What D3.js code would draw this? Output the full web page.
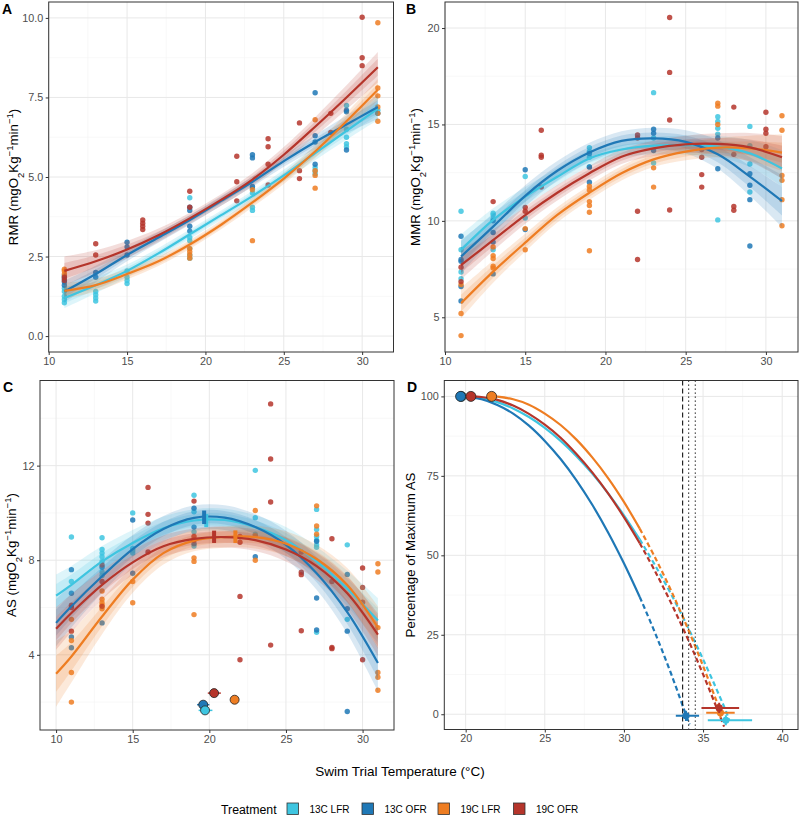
<!DOCTYPE html>
<html><head><meta charset="utf-8">
<script src="https://cdn.jsdelivr.net/npm/d3@7"></script>
<style>body{margin:0;background:#fff} svg{display:block;font-family:"Liberation Sans",Arial,Helvetica,sans-serif}</style>
</head><body><svg id="c" width="800" height="816"></svg>
<script>
// ---------------- DATA ----------------
const treatments = ["13C LFR","13C OFR","19C LFR","19C OFR"];
const palette = ["#3ec5e0","#1f78b6","#ee7d22","#b5352b"];

// Panel A: RMR observations [temperature, values]
const rmrPts13LFR = [[11,[1.05,1.15,1.25,1.4,1.5]],[13,[1.1,1.2,1.3,1.4]],[15,[1.65,1.75,1.85,2.05]],[19,[2.45,2.55,2.75,3.0,3.1,4.35]],[23,[3.95,4.05,4.5,4.65]],[27,[5.1,5.2,5.3]],[29,[5.95,6.05,6.25,6.5,7.25]],[31,[7.1]]];
const rmrPts13OFR = [[11,[1.6,1.7,1.8,1.9]],[13,[1.85,2.0]],[15,[2.55,2.8,2.95]],[19,[3.3,3.45,3.95,4.05]],[23,[4.7,5.6,5.7]],[27,[5.4,6.1,6.3,7.65]],[29,[5.85,7.05,7.1]],[31,[7.0]]];
const rmrPts19LFR = [[11,[1.95,2.05,2.1]],[19,[2.45,2.55,2.65,2.75]],[23,[3.0,4.6]],[27,[4.65,5.05,5.2,6.8]],[31,[6.75,7.0,7.2,7.55,7.8,9.85]]];
const rmrPts19OFR = [[11,[1.75,1.85]],[13,[2.55,2.9]],[16,[3.35,3.45,3.55,3.65]],[19,[4.05,4.55]],[22,[4.25,4.85,5.65]],[24,[4.75,5.4,5.95,6.2]],[26,[4.95,5.2,6.7]],[28,[6.4,7.0]],[30,[8.5,8.75,10.02]]];
const fitTempsAB = [11,13,15,17,19,21,23,25,27,29,31];
const rmrFit13LFR = [1.2,1.6,2.05,2.6,3.2,3.8,4.4,5.05,5.75,6.45,7.15];
const rmrFit13OFR = [1.4,1.95,2.55,3.1,3.65,4.25,4.85,5.5,6.1,6.65,7.2];
const rmrFit19LFR = [1.42,1.6,1.95,2.35,2.88,3.5,4.2,4.95,5.8,6.75,7.74];
const rmrFit19OFR = [2.05,2.35,2.72,3.17,3.7,4.28,4.92,5.7,6.58,7.5,8.45];
const rmrBand13LFR = [0.32,0.25,0.2,0.17,0.15,0.15,0.16,0.18,0.22,0.28,0.36];
const rmrBand13OFR = [0.34,0.26,0.2,0.17,0.15,0.15,0.16,0.18,0.22,0.28,0.38];
const rmrBand19LFR = [0.25,0.2,0.17,0.15,0.14,0.14,0.15,0.17,0.2,0.26,0.34];
const rmrBand19OFR = [0.45,0.35,0.27,0.21,0.18,0.18,0.2,0.24,0.3,0.38,0.48];

// Panel B: MMR observations
const mmrPts13LFR = [[11,[10.5,8.5,7.35,7.0]],[13,[10.4,10.3,10.1,8.5]],[15,[12.3,10.15]],[19,[13.8,13.6,13.3,12.8]],[23,[16.65,14.3,13.0]],[27,[15.4,15.15,14.8,14.5,10.05]],[29,[14.9,13.9,12.95,11.5]]];
const mmrPts13OFR = [[11,[9.2,8.0,7.9,6.6,5.85]],[13,[10.0,9.4,8.9,7.25]],[15,[12.65,9.55]],[19,[13.5,12.8,12.0]],[23,[14.75,14.55,13.65]],[27,[14.3,12.7]],[29,[12.45,11.85,11.1,8.7]]];
const mmrPts19LFR = [[11,[6.7,5.2,4.05]],[13,[8.65,8.2,8.05,7.65,7.55]],[15,[9.6,8.5]],[19,[11.8,11.6,11.0,10.8,10.45,8.45]],[23,[12.75,11.75]],[27,[16.1,15.95,15.0]],[31,[15.45,14.7,12.35,12.1,11.1,9.75]]];
const mmrPts19OFR = [[11,[7.6,6.85]],[13,[11.0]],[15,[10.7,10.5]],[16,[14.7,13.4,13.3,11.75]],[22,[14.45,14.3,10.5,8.0]],[24,[20.55,17.7,15.23,10.56]],[26,[13.7,13.3,12.4,11.75]],[28,[15.9,13.45,10.75,10.55]],[30,[15.63,14.75,14.54,13.85]]];
const mmrFit13LFR = [8.49,10.05,11.26,12.29,13.24,13.7,13.9,13.93,13.85,13.5,12.72];
const mmrFit13OFR = [8.15,9.7,11.3,12.6,13.55,14.15,14.28,14.1,13.45,12.3,11.03];
const mmrFit19LFR = [5.73,7.37,8.87,10.31,11.46,12.47,13.19,13.59,13.8,13.76,13.54];
const mmrFit19OFR = [7.71,9.0,10.3,11.46,12.47,13.33,13.76,13.97,13.99,13.81,13.3];
const mmrBand13LFR = [0.8,0.6,0.5,0.45,0.42,0.42,0.45,0.5,0.55,0.7,0.95];
const mmrBand13OFR = [0.85,0.65,0.55,0.5,0.5,0.5,0.55,0.6,0.75,1.0,1.35];
const mmrBand19LFR = [0.8,0.58,0.46,0.4,0.38,0.38,0.4,0.45,0.5,0.65,0.95];
const mmrBand19OFR = [0.75,0.55,0.45,0.4,0.38,0.38,0.4,0.45,0.55,0.75,1.1];

// Panel C: AS observations
const asPts13LFR = [[11,[8.98,7.1]],[13,[8.95,8.45,8.3,8.15,7.95,7.5,7.35]],[15,[10.0,8.5,8.4,8.3]],[19,[10.75,10.05,9.2,8.6]],[23,[11.8,9.8,9.1]],[27,[10.15,9.3,9.0,8.85,8.65,8.55,4.95]],[29,[8.65,5.5]]];
const asPts13OFR = [[11,[7.6,6.6,4.75,4.3]],[13,[7.7,5.35]],[15,[9.7,7.45]],[19,[10.2,9.4,8.7]],[23,[8.15]],[27,[8.8,6.4,5.05]],[29,[7.4,5.95,5.0,1.6]]];
const asPts19LFR = [[11,[5.5,4.6,3.25,2.0]],[13,[6.7,6.35,6.2,6.1,5.95]],[15,[7.1,6.2]],[19,[8.1,7.95,5.7]],[23,[10.1,9.05,8.0]],[27,[10.3,9.45,9.1]],[31,[7.85,7.5,5.15,3.25,3.05,2.5]]];
const asPts19OFR = [[11,[6.0,5.0,6.1]],[13,[7.8,7.1,6.05]],[16,[11.08,9.94,9.57,8.35]],[19,[10.5,9.0,8.85]],[22,[9.0,8.76,6.47,3.79]],[24,[14.61,12.28,10.46,4.41]],[26,[8.35,7.49,7.39,5.02]],[28,[8.91,7.1,4.31,4.26]],[30,[7.67,6.85,6.22,3.79]]];
const fitTempsC = [10,11,13,15,17,19,21,23,25,27,29,31];
const asFit13LFR = [6.5,6.96,7.95,8.73,9.35,9.68,9.7,9.4,8.85,7.95,6.8,5.45];
const asFit13OFR = [5.35,6.05,7.32,8.47,9.32,9.79,9.8,9.4,8.65,7.45,5.8,3.65];
const asFit19LFR = [3.2,3.93,5.62,7.18,8.3,8.83,8.98,8.98,8.7,8.05,6.95,5.15];
const asFit19OFR = [5.1,5.77,6.96,7.91,8.59,8.9,8.98,8.85,8.45,7.75,6.6,4.85];
const asBand13LFR = [0.9,0.8,0.65,0.55,0.5,0.48,0.48,0.5,0.55,0.62,0.75,0.95];
const asBand13OFR = [1.0,0.9,0.7,0.6,0.55,0.52,0.52,0.55,0.6,0.7,0.9,1.2];
const asBand19LFR = [1.4,1.1,0.75,0.56,0.48,0.45,0.45,0.48,0.52,0.6,0.72,0.9];
const asBand19OFR = [0.9,0.8,0.62,0.52,0.46,0.44,0.44,0.46,0.5,0.58,0.7,0.9];
// Topt markers on AS curves (temperature, low, high)
const asPeakT  = [19.8, 19.66, 21.7, 20.31];
const asPeakLo = [9.4, 9.53, 8.73, 8.73];
const asPeakHi = [9.95, 10.1, 9.26, 9.25];
// Topt estimates with CI (bottom circles)
const toptT  = [19.72, 19.6, 21.65, 20.31];
const toptY  = [1.65, 1.89, 2.1, 2.38];
const toptLo = [19.3, 19.2, 21.5, 19.9];
const toptHi = [20.2, 20.0, 21.8, 20.75];

// Panel D: percentage of maximum AS
const pctSolidT13LFR = [19.72,21,22,23,24,25,26,27,28,29,30,31];
const pctSolid13LFR  = [100,99.4,98.2,96.2,93.5,90.1,86.0,81.2,75.7,69.5,62.6,55.0];
const pctDashT13LFR  = [31,32,33,34,35,36,36.5,36.65];
const pctDash13LFR   = [55.0,46.6,37.6,27.8,17.3,6.2,0.3,-2.0];
const pctSolidT13OFR = [19.68,21,22,23,24,25,26,27,28,29,30,31];
const pctSolid13OFR  = [100,99.1,97.3,94.6,90.8,86.0,80.3,73.6,65.9,57.2,47.5,36.9];
const pctDashT13OFR  = [31,32,33,34,34.15];
const pctDash13OFR   = [36.9,25.2,12.5,-1.3,-3.2];
const pctSolidT19LFR = [21.64,22,23,24,25,26,27,28,29,30,31];
const pctSolid19LFR  = [100,99.9,99.1,97.4,94.6,91.0,86.4,80.8,74.3,66.8,58.4];
const pctDashT19LFR  = [31,32,33,34,35,36,36.15];
const pctDash19LFR   = [58.4,49.0,38.7,27.4,15.2,2.1,0.0];
const pctSolidT19OFR = [20.33,21,22,23,24,25,26,27,28,29,30,31];
const pctSolid19OFR  = [100,99.8,98.9,97.1,94.5,91.1,87.0,81.9,76.1,69.5,62.0,53.8];
const pctDashT19OFR  = [31,32,33,34,35,36,36.33];
const pctDash19OFR   = [53.8,44.7,34.8,24.1,12.6,0.3,-3.9];
// CTmax estimates
const ctT  = [36.44, 33.92, 36.1, 36.02];
const ctP  = [-1.9, -0.5, 0.5, 2.0];
const ctLo = [35.3, 33.28, 35.2, 34.9];
const ctHi = [38.1, 34.75, 37.0, 37.28];
// reference lines
const refDashed = [33.71];
const refDotted = [34.09, 34.51];

// ---------------- DRAWING ----------------
const svg = d3.select("#c");
const defs = svg.append("defs");
let clipN = 0;
const smooth = d3.curveCatmullRom.alpha(0.5);

function panel(box, xd, yd, xMaj, xMin, yMaj, yMin, yFmt) {
  const [x0, x1, y0, y1] = box;
  const x = d3.scaleLinear().domain(xd).range([x0, x1]);
  const y = d3.scaleLinear().domain(yd).range([y1, y0]);
  const g = svg.append("g");
  const id = "clip" + (clipN++);
  defs.append("clipPath").attr("id", id).append("rect").attr("x", x0).attr("y", y0).attr("width", x1 - x0).attr("height", y1 - y0);
  g.selectAll(null).data(xMin).join("line").attr("x1", d => x(d)).attr("x2", d => x(d)).attr("y1", y0).attr("y2", y1).attr("stroke", "#f3f3f3").attr("stroke-width", 0.6);
  g.selectAll(null).data(yMin).join("line").attr("y1", d => y(d)).attr("y2", d => y(d)).attr("x1", x0).attr("x2", x1).attr("stroke", "#f3f3f3").attr("stroke-width", 0.6);
  g.selectAll(null).data(xMaj).join("line").attr("x1", d => x(d)).attr("x2", d => x(d)).attr("y1", y0).attr("y2", y1).attr("stroke", "#e8e8e8").attr("stroke-width", 1);
  g.selectAll(null).data(yMaj).join("line").attr("y1", d => y(d)).attr("y2", d => y(d)).attr("x1", x0).attr("x2", x1).attr("stroke", "#e8e8e8").attr("stroke-width", 1);
  const plot = g.append("g").attr("clip-path", `url(#${id})`);
  const over = svg.append("g");
  over.append("rect").attr("x", x0).attr("y", y0).attr("width", x1 - x0).attr("height", y1 - y0).attr("fill", "none").attr("stroke", "#333").attr("stroke-width", 1);
  const ax = over.append("g").attr("transform", `translate(0,${y1})`).call(d3.axisBottom(x).tickValues(xMaj).tickSize(3).tickPadding(2).tickFormat(d3.format("d")));
  const ay = over.append("g").attr("transform", `translate(${x0},0)`).call(d3.axisLeft(y).tickValues(yMaj).tickSize(3).tickPadding(2.5).tickFormat(yFmt));
  [ax, ay].forEach(a => {
    a.select(".domain").remove();
    a.selectAll(".tick line").attr("stroke", "#333");
    a.selectAll(".tick text").attr("fill", "#4d4d4d").style("font-size", "10.8px").style("font-family", "Liberation Sans, Arial, sans-serif");
  });
  return {x, y, plot, over};
}

function drawPoints(P, sets) {
  sets.forEach((arr, i) => {
    const pts = arr.flatMap(([t, vs]) => vs.map(v => ({t, v})));
    P.plot.selectAll(null).data(pts).join("circle")
      .attr("cx", d => P.x(d.t)).attr("cy", d => P.y(d.v)).attr("r", 2.7)
      .attr("fill", palette[i]).attr("fill-opacity", 0.85);
  });
}
function drawFits(P, temps, fits, bands) {
  fits.forEach((f, i) => {
    const data = temps.map((t, k) => ({t, v: f[k], w: bands[i][k]}));
    [1, 0.55].forEach(s => {
      P.plot.append("path").datum(data)
        .attr("d", d3.area().x(d => P.x(d.t)).y0(d => P.y(d.v - d.w * s)).y1(d => P.y(d.v + d.w * s)).curve(smooth))
        .attr("fill", palette[i]).attr("fill-opacity", 0.17);
    });
  });
  fits.forEach((f, i) => {
    const data = temps.map((t, k) => ({t, v: f[k]}));
    P.plot.append("path").datum(data)
      .attr("d", d3.line().x(d => P.x(d.t)).y(d => P.y(d.v)).curve(smooth))
      .attr("fill", "none").attr("stroke", palette[i]).attr("stroke-width", 2.2);
  });
}

function yTitle(x, y, parts) {
  const t = svg.append("text").attr("transform", `translate(${x},${y}) rotate(-90)`).attr("text-anchor", "middle").style("font-size", "13.3px").attr("fill", "#000");
  parts.forEach(p => {
    const ts = t.append("tspan").text(p[0]);
    if (p[1]) ts.attr("baseline-shift", p[1]).style("font-size", "9.5px");
  });
}
const unitParts = lab => [[lab + " (mgO"], ["2", "sub"], ["Kg"], ["\u22121", "super"], ["min"], ["\u22121", "super"], [")"]];

function panelLabel(x, y, s) {
  svg.append("text").attr("x", x).attr("y", y).text(s).style("font-size", "14px").style("font-weight", "bold").attr("fill", "#000");
}

// Panel A
const PA = panel([48.7, 393.5, 2, 352], [10, 32], [-0.5, 10.5], [10,15,20,25,30], [12.5,17.5,22.5,27.5], [0,2.5,5,7.5,10], [1.25,3.75,6.25,8.75], d3.format(".1f"));
drawPoints(PA, [rmrPts13LFR, rmrPts13OFR, rmrPts19LFR, rmrPts19OFR]);
drawFits(PA, fitTempsAB, [rmrFit13LFR, rmrFit13OFR, rmrFit19LFR, rmrFit19OFR], [rmrBand13LFR, rmrBand13OFR, rmrBand19LFR, rmrBand19OFR]);
yTitle(17.5, 177, unitParts("RMR"));
panelLabel(2, 14, "A");

// Panel B
const PB = panel([445, 798, 2, 352], [10, 32], [3.2, 21.35], [10,15,20,25,30], [12.5,17.5,22.5,27.5], [5,10,15,20], [7.5,12.5,17.5], d3.format("d"));
drawPoints(PB, [mmrPts13LFR, mmrPts13OFR, mmrPts19LFR, mmrPts19OFR]);
drawFits(PB, fitTempsAB, [mmrFit13LFR, mmrFit13OFR, mmrFit19LFR, mmrFit19OFR], [mmrBand13LFR, mmrBand13OFR, mmrBand19LFR, mmrBand19OFR]);
yTitle(420, 177, unitParts("MMR"));
panelLabel(406, 14, "B");

// Panel C
const PC = panel([40, 394, 380.5, 730], [8.95, 32.05], [0.82, 15.6], [10,15,20,25,30], [12.5,17.5,22.5,27.5], [4,8,12], [2,6,10,14], d3.format("d"));
drawPoints(PC, [asPts13LFR, asPts13OFR, asPts19LFR, asPts19OFR]);
drawFits(PC, fitTempsC, [asFit13LFR, asFit13OFR, asFit19LFR, asFit19OFR], [asBand13LFR, asBand13OFR, asBand19LFR, asBand19OFR]);
treatments.forEach((tr, i) => {
  PC.plot.append("rect").attr("x", PC.x(asPeakT[i]) - 2).attr("width", 4)
    .attr("y", PC.y(asPeakHi[i])).attr("height", PC.y(asPeakLo[i]) - PC.y(asPeakHi[i])).attr("fill", palette[i]);
});
treatments.forEach((tr, i) => {
  PC.plot.append("line").attr("x1", PC.x(toptLo[i])).attr("x2", PC.x(toptHi[i])).attr("y1", PC.y(toptY[i])).attr("y2", PC.y(toptY[i]))
    .attr("stroke", palette[i]).attr("stroke-width", 1.5);
});
[1, 0, 2, 3].forEach(i => {
  PC.plot.append("circle").attr("cx", PC.x(toptT[i])).attr("cy", PC.y(toptY[i])).attr("r", 4.5)
    .attr("fill", palette[i]).attr("stroke", "#222").attr("stroke-width", 0.8);
});
yTitle(16, 555, unitParts("AS"));
panelLabel(3, 392, "C");

// Panel D
const PD = panel([444.3, 798, 380.5, 729.5], [18.65, 41.0], [-4.8, 105], [20,25,30,35,40], [22.5,27.5,32.5,37.5], [0,25,50,75,100], [12.5,37.5,62.5,87.5], d3.format("d"));
const solidT = [pctSolidT13LFR, pctSolidT13OFR, pctSolidT19LFR, pctSolidT19OFR];
const solidV = [pctSolid13LFR, pctSolid13OFR, pctSolid19LFR, pctSolid19OFR];
const dashT = [pctDashT13LFR, pctDashT13OFR, pctDashT19LFR, pctDashT19OFR];
const dashV = [pctDash13LFR, pctDash13OFR, pctDash19LFR, pctDash19OFR];
const lineD = d3.line().x(d => PD.x(d[0])).y(d => PD.y(d[1])).curve(smooth);
treatments.forEach((tr, i) => {
  PD.plot.append("path").datum(solidT[i].map((t, k) => [t, solidV[i][k]])).attr("d", lineD)
    .attr("fill", "none").attr("stroke", palette[i]).attr("stroke-width", 2.2);
  PD.plot.append("path").datum(dashT[i].map((t, k) => [t, dashV[i][k]])).attr("d", lineD)
    .attr("fill", "none").attr("stroke", palette[i]).attr("stroke-width", 2.2).attr("stroke-dasharray", "5,3");
});
refDashed.forEach(t => PD.plot.append("line").attr("x1", PD.x(t)).attr("x2", PD.x(t)).attr("y1", 380.5).attr("y2", 729.5).attr("stroke", "#111").attr("stroke-width", 1.1).attr("stroke-dasharray", "5,3"));
refDotted.forEach(t => PD.plot.append("line").attr("x1", PD.x(t)).attr("x2", PD.x(t)).attr("y1", 380.5).attr("y2", 729.5).attr("stroke", "#111").attr("stroke-width", 1.1).attr("stroke-dasharray", "1.2,2.8"));
treatments.forEach((tr, i) => {
  PD.plot.append("line").attr("x1", PD.x(ctLo[i])).attr("x2", PD.x(ctHi[i])).attr("y1", PD.y(ctP[i])).attr("y2", PD.y(ctP[i]))
    .attr("stroke", palette[i]).attr("stroke-width", 2);
  PD.plot.append("line").attr("x1", PD.x(ctT[i])).attr("x2", PD.x(ctT[i])).attr("y1", PD.y(ctP[i] - 1.6)).attr("y2", PD.y(ctP[i] + 1.6))
    .attr("stroke", palette[i]).attr("stroke-width", 2);
  PD.plot.append("circle").attr("cx", PD.x(ctT[i])).attr("cy", PD.y(ctP[i])).attr("r", 3.6).attr("fill", palette[i]);
});
[0, 1, 3, 2].forEach(i => {
  PD.plot.append("circle").attr("cx", PD.x(solidT[i][0])).attr("cy", PD.y(100)).attr("r", 5)
    .attr("fill", palette[i]).attr("stroke", "#222").attr("stroke-width", 0.8);
});
yTitle(415, 555, [["Percentage of Maximum AS"]]);
panelLabel(407, 392, "D");

// X-axis title
svg.append("text").attr("x", 400).attr("y", 776).attr("text-anchor", "middle").style("font-size", "13.5px").attr("fill", "#000").text("Swim Trial Temperature (\u00B0C)");

// Legend
svg.append("text").attr("x", 221).attr("y", 813.5).style("font-size", "12.3px").attr("fill", "#000").text("Treatment");
const keyX = [287, 362, 438, 513.5];
treatments.forEach((tr, i) => {
  svg.append("rect").attr("x", keyX[i]).attr("y", 803).attr("width", 11.5).attr("height", 11.5)
    .attr("fill", palette[i]).attr("stroke", "#333").attr("stroke-width", 0.8);
  svg.append("text").attr("x", keyX[i] + 22.5).attr("y", 812.8).style("font-size", "10px").attr("fill", "#000").text(tr);
});
</script></body></html>
